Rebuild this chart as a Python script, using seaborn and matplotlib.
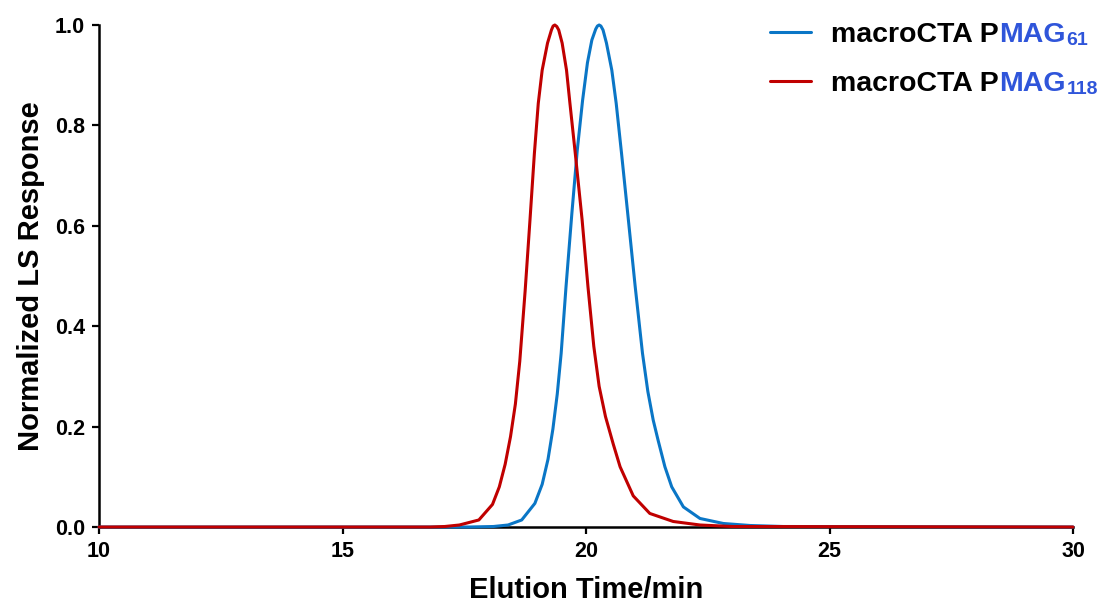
import matplotlib
matplotlib.use("Agg")
import matplotlib.pyplot as plt
import numpy as np
import pandas as pd
import seaborn as sns

# elution traces (time in min, normalized LS response)
time_pmag61 = [10.0, 17.6, 18.1, 18.4, 18.68, 18.95, 19.10, 19.22, 19.32, 19.41, 19.49, 19.59,
               19.71, 19.82, 19.93, 20.03, 20.12, 20.20, 20.235, 20.27, 20.305, 20.35, 20.42,
               20.53, 20.62, 20.73, 20.87, 21.01, 21.16, 21.27, 21.38, 21.48, 21.62, 21.76,
               22.0, 22.34, 22.82, 23.37, 24.05, 30.0]
resp_pmag61 = [0.0, 0.0, 0.001, 0.004, 0.014, 0.047, 0.085, 0.135, 0.195, 0.265, 0.346, 0.479,
               0.625, 0.75, 0.85, 0.925, 0.97, 0.992, 0.998, 1.0, 0.998, 0.99, 0.964,
               0.910, 0.844, 0.744, 0.612, 0.479, 0.346, 0.27, 0.213, 0.173, 0.120, 0.080,
               0.040, 0.017, 0.007, 0.003, 0.001, 0.0]

time_pmag118 = [10.0, 16.8, 17.1, 17.4, 17.8, 18.08, 18.22, 18.34, 18.45, 18.55, 18.64, 18.75,
                18.85, 18.94, 19.02, 19.10, 19.21, 19.29, 19.325, 19.36, 19.40, 19.44, 19.51,
                19.60, 19.67, 19.78, 19.92, 20.04, 20.16, 20.27, 20.40, 20.56, 20.70, 20.97,
                21.31, 21.79, 22.34, 23.0, 30.0]
resp_pmag118 = [0.0, 0.0, 0.001, 0.004, 0.014, 0.045, 0.08, 0.125, 0.18, 0.245, 0.33, 0.47,
                0.612, 0.744, 0.844, 0.910, 0.964, 0.99, 0.998, 1.0, 0.997, 0.99, 0.964,
                0.910, 0.844, 0.744, 0.612, 0.479, 0.36, 0.28, 0.22, 0.165, 0.12, 0.062,
                0.027, 0.011, 0.004, 0.001, 0.0]

series_keys   = ["PMAG61", "PMAG118"]
series_subs   = ["61", "118"]
series_colors = {"PMAG61": "#0A76C6", "PMAG118": "#C00000"}
label_blue    = "#2F55DA"

x_ticks = [10, 15, 20, 25, 30]
y_ticks = [0.0, 0.2, 0.4, 0.6, 0.8, 1.0]

df = pd.concat([
    pd.DataFrame({"t": time_pmag61, "r": resp_pmag61, "s": "PMAG61"}),
    pd.DataFrame({"t": time_pmag118, "r": resp_pmag118, "s": "PMAG118"}),
])

sns.set_style("ticks")
plt.rcParams["font.family"] = ["Liberation Sans", "DejaVu Sans"]
plt.rcParams["font.weight"] = "bold"
for key in ["text.color", "axes.labelcolor", "xtick.color", "ytick.color", "axes.edgecolor"]:
    plt.rcParams[key] = "black"

W, H = 1101, 602
fig = plt.figure(figsize=(W / 100, H / 100), dpi=100)
ax = fig.add_axes([99 / W, 1 - 527 / H, (1073 - 99) / W, (527 - 25) / H])

sns.lineplot(data=df, x="t", y="r", hue="s", hue_order=series_keys, palette=series_colors,
             linewidth=2.2, ax=ax, zorder=3, clip_on=False)

ax.set_xlim(10, 30)
ax.set_ylim(0, 1.0)
ax.set_xticks(x_ticks)
ax.set_yticks(y_ticks)
ax.set_xticklabels([str(v) for v in x_ticks])
ax.set_yticklabels(["{:.1f}".format(v) for v in y_ticks])
ax.tick_params(axis="both", labelsize=15.5, width=1.6, length=5, color="black", pad=5)
for lab in ax.get_xticklabels() + ax.get_yticklabels():
    lab.set_fontweight("bold")
sns.despine(ax=ax)
for side in ["left", "bottom"]:
    ax.spines[side].set_linewidth(1.8)
    ax.spines[side].set_color("black")

ax.set_xlabel("Elution Time/min", fontsize=21, fontweight="bold", labelpad=10)
ax.set_ylabel("Normalized LS Response", fontsize=21, fontweight="bold", labelpad=7)

handles, _ = ax.get_legend_handles_labels()
leg = ax.legend(handles, ["macroCTA P", "macroCTA P"], frameon=False, loc="upper left",
                bbox_to_anchor=(770 / W, 1 - 22 / H), bbox_transform=fig.transFigure,
                borderpad=0, borderaxespad=0, handlelength=1.45, handletextpad=0.7,
                labelspacing=0.8, prop={"size": 20.5, "weight": "bold"})

fig.canvas.draw()
renderer = fig.canvas.get_renderer()
for txt, sub in zip(leg.get_texts(), series_subs):
    bb = txt.get_window_extent(renderer)
    mag = fig.text(bb.x1 / W, bb.y0 / H, "MAG", color=label_blue, fontsize=20.5,
                   fontweight="bold", ha="left", va="bottom")
    bb2 = mag.get_window_extent(renderer)
    fig.text(bb2.x1 / W + 1 / W, (bb2.y0 - 1) / H, sub, color=label_blue, fontsize=14,
             fontweight="bold", ha="left", va="bottom")

fig.savefig("out.png", dpi=100)
